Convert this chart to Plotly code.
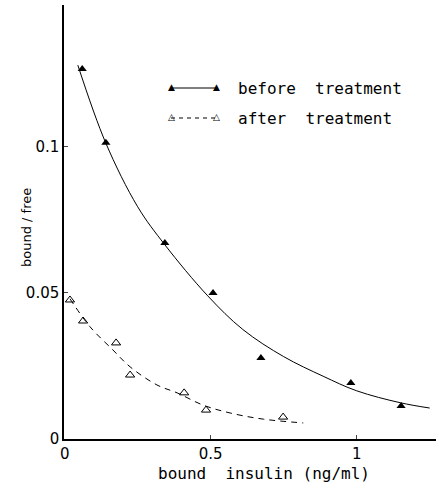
import plotly.graph_objects as go

# Measured data points
before_x = [0.060, 0.141, 0.343, 0.508, 0.672, 0.980, 1.152]
before_y = [0.1267, 0.1014, 0.0671, 0.0500, 0.0277, 0.0192, 0.0113]
after_x = [0.018, 0.063, 0.176, 0.224, 0.409, 0.484, 0.748]
after_y = [0.0476, 0.0404, 0.0329, 0.0219, 0.0158, 0.0099, 0.0075]

# Hand-drawn fitted curves
before_curve_x = [0.045, 0.14, 0.25, 0.343, 0.49, 0.61, 0.75, 0.885, 1.0, 1.15, 1.25]
before_curve_y = [0.128, 0.1015, 0.0795, 0.0665, 0.0490, 0.0375, 0.0282, 0.0215, 0.0165, 0.0124, 0.0106]
after_curve_x = [0.018, 0.087, 0.165, 0.224, 0.316, 0.385, 0.474, 0.567, 0.680, 0.817]
after_curve_y = [0.048, 0.0384, 0.0305, 0.0247, 0.0185, 0.0158, 0.0116, 0.0089, 0.0068, 0.0055]

x_ticks = [0, 0.5, 1]
x_tick_labels = ["0", "0.5", "1"]
y_ticks = [0, 0.05, 0.1]
y_tick_labels = ["0", "0.05", "0.1"]
legend_labels = ["before  treatment", "after  treatment"]

FONT = "DejaVu Sans"
MONO = "DejaVu Sans Mono"
L, R, T, B = 64, 1, 5, 48
PW = 437 - L - R
PH = 487 - T - B


def px_x(p):
    return (p - L) / PW


def px_y(p):
    return (487 - B - p) / PH


fig = go.Figure()
fig.add_trace(go.Scatter(x=before_curve_x, y=before_curve_y, mode="lines", line=dict(color="black", width=1, shape="spline"), showlegend=False, hoverinfo="skip"))
fig.add_trace(go.Scatter(x=after_curve_x, y=after_curve_y, mode="lines", line=dict(color="black", width=1, dash="6px,5px", shape="spline"), showlegend=False, hoverinfo="skip"))
fig.add_trace(go.Scatter(x=before_x, y=before_y, mode="markers", marker=dict(symbol="triangle-up", size=8, color="black"), showlegend=False))
fig.add_trace(go.Scatter(x=after_x, y=after_y, mode="markers", marker=dict(symbol="triangle-up-open", size=8, color="black", line=dict(width=1)), showlegend=False))

# manual legend
leg = [(88, "solid", "▲"), (118, "dash", "△")]
for (yy, dash, sym), lab in zip(leg, legend_labels):
    fig.add_shape(type="line", xref="paper", yref="paper", x0=px_x(171), x1=px_x(216), y0=px_y(yy), y1=px_y(yy),
                  line=dict(color="black", width=1, dash=dash if dash == "solid" else "4px,4px"))
    for p in (171, 216):
        fig.add_annotation(xref="paper", yref="paper", x=px_x(p), y=px_y(yy - 1), text=sym, showarrow=False,
                           font=dict(family=FONT, size=9, color="black"), xanchor="center", yanchor="middle")
    fig.add_annotation(xref="paper", yref="paper", x=px_x(236), y=px_y(yy), text=lab, showarrow=False,
                       font=dict(family=MONO, size=16, color="black"), xanchor="left", yanchor="middle")

fig.add_annotation(xref="paper", yref="paper", x=px_x(264), y=px_y(474), text="bound  insulin (ng/ml)", showarrow=False,
                   font=dict(family=MONO, size=16, color="black"), xanchor="center", yanchor="middle")
fig.add_annotation(xref="paper", yref="paper", x=px_x(26), y=px_y(228), text="bound / free", showarrow=False, textangle=-90,
                   font=dict(family=FONT, size=13, color="black"), xanchor="center", yanchor="middle")

fig.update_xaxes(range=[-0.0024, 1.2716], tickvals=x_ticks, ticktext=x_tick_labels, ticks="inside", ticklen=4,
                 showline=True, linecolor="black", linewidth=1.5, showgrid=False, zeroline=False,
                 tickfont=dict(family=FONT, size=15, color="black"))
fig.update_yaxes(range=[0, 0.1486], tickvals=y_ticks, ticktext=y_tick_labels, ticks="inside", ticklen=4,
                 showline=True, linecolor="black", linewidth=1.5, showgrid=False, zeroline=False,
                 tickfont=dict(family=FONT, size=15, color="black"))
fig.update_layout(width=437, height=487, margin=dict(l=L, r=R, t=T, b=B), plot_bgcolor="white", paper_bgcolor="white")
fig.write_html("out.html")
